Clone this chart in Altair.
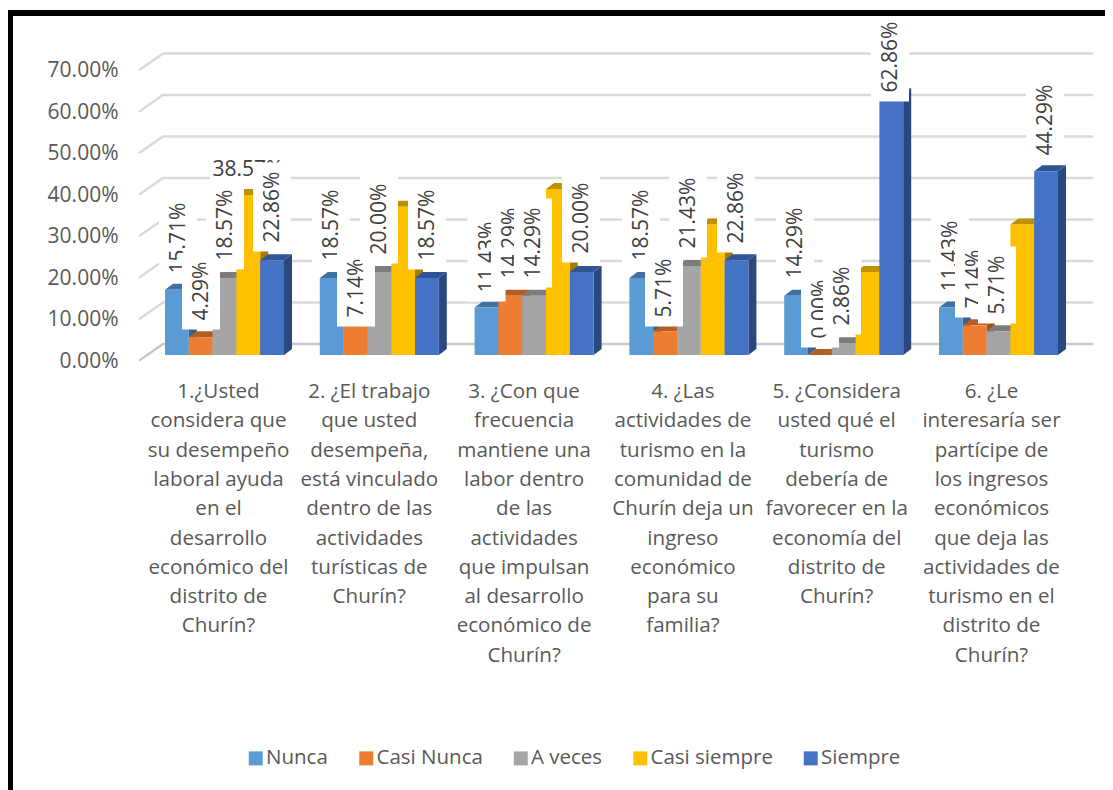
import altair as alt
import pandas as pd

series = ["Nunca", "Casi Nunca", "A veces", "Casi siempre", "Siempre"]
colors = ["#5B9BD5", "#ED7D31", "#A5A5A5", "#FFC000", "#4472C4"]
top_colors = ["#41729F", "#B25E25", "#7C7C7C", "#BF9000", "#2F5597"]
side_colors = ["#35618C", "#A04F1E", "#6A6A6A", "#A67C00", "#2A477F"]

categories = [
    "1.¿Usted\nconsidera que\nsu desempeño\nlaboral ayuda\nen el\ndesarrollo\neconómico del\ndistrito de\nChurín?",
    "2. ¿El trabajo\nque usted\ndesempeña,\nestá vinculado\ndentro de las\nactividades\nturísticas de\nChurín?",
    "3. ¿Con que\nfrecuencia\nmantiene una\nlabor dentro\nde las\nactividades\nque impulsan\nal desarrollo\neconómico de\nChurín?",
    "4. ¿Las\nactividades de\nturismo en la\ncomunidad de\nChurín deja un\ningreso\neconómico\npara su\nfamilia?",
    "5. ¿Considera\nusted qué el\nturismo\ndebería de\nfavorecer en la\neconomía del\ndistrito de\nChurín?",
    "6. ¿Le\ninteresaría ser\npartícipe de\nlos ingresos\neconómicos\nque deja las\nactividades de\nturismo en el\ndistrito de\nChurín?",
]
category_shift = [-6, -10, -10, -6, -7, -7]

nunca = [15.71, 18.57, 11.43, 18.57, 14.29, 11.43]
casi_nunca = [4.29, 7.14, 14.29, 5.71, 0.00, 7.14]
a_veces = [18.57, 20.00, 14.29, 21.43, 2.86, 5.71]
casi_siempre = [38.57, 35.71, 40.00, 31.43, 20.00, 31.43]
siempre = [22.86, 18.57, 20.00, 22.86, 62.86, 44.29]
values = [nunca, casi_nunca, a_veces, casi_siempre, siempre]
ticks = [0, 10, 20, 30, 40, 50, 60, 70]

# label placement on the page (centre of each label; None = label not visible)
label_cx = [
    [179, 332, 487.5, 642, 796, 951],
    [202, 357, 511, 665, 821, 975],
    [226, 380, 534, 689, 843, 998],
    [248, None, None, None, None, None],
    [273, 428, 582, 737, 891, 1046],
]
label_cy = [
    [238, 225, 257, 225, 243, 256],
    [291, 288, 243, 288, 309, 279],
    [225, 219, 243, 213, 296, 285],
    [170, None, None, None, None, None],
    [207, 225, 218, 208, 57, 120],
]

# page geometry -> data units
PX_W, PX_H = 1097, 782
C0, PITCH = 224.5, 154.8
Y0, PPV = 355.0, 4.15
def ux(X):
    return (X - C0) / PITCH
def uy(Y):
    return (Y0 - Y) / PPV
xscale = alt.Scale(domain=[ux(8), ux(8 + PX_W)], range=[0, PX_W], nice=False, zero=False)
yscale = alt.Scale(domain=[uy(8 + PX_H), uy(8)], range=[PX_H, 0], nice=False, zero=False)
BAR = 23.8 / PITCH
DX = 8 / PITCH
DY = 6 / PPV
GRID_LIFT = 11 / PPV

yaxis = alt.Axis(
    values=ticks, title=None, domain=False, ticks=False, grid=False,
    labelExpr="format(datum.value, '.2f') + '%'",
    labelFont="Open Sans", labelFontSize=21, labelColor="#595959",
    labelPadding=0, offset=-110, labelOffset=6,
)

X = alt.X("x:Q", scale=xscale, axis=None)
X2 = alt.X2("x2:Q")
Y = alt.Y("y:Q", scale=yscale, axis=yaxis, stack=None)
Y2 = alt.Y2("y2:Q")

layers = []

# back-wall gridlines with the left wall's diagonals
rows = []
for t in ticks:
    b = t + GRID_LIFT
    rows += [
        dict(tick=t, x=ux(140), y=b - 16 / PPV),
        dict(tick=t, x=ux(163), y=b),
        dict(tick=t, x=ux(1092), y=b),
    ]
grid = pd.DataFrame(rows)
layers.append(
    alt.Chart(grid[grid.tick > 0]).mark_line(color="#D9D9D9", strokeWidth=2.6, strokeCap="round")
    .encode(x=X, y=Y, detail="tick:N")
)
layers.append(
    alt.Chart(grid[grid.tick == 0]).mark_line(color="#C8C8C8", strokeWidth=2.4, strokeCap="round")
    .encode(x=X, y=Y, detail="tick:N")
)

# the bars, series by series, so a later bar hides an earlier bar's side
for j, name in enumerate(series):
    side_rows, top_rows, front_rows = [], [], []
    for i, v in enumerate(values[j]):
        x0 = i + (j - 2.5) * BAR
        x1 = x0 + BAR
        side_rows += [
            dict(g=i, x=x1, y=v, y2=0),
            dict(g=i, x=x1 + DX, y=v + DY, y2=DY),
        ]
        top_rows += [
            dict(g=i, x=x0, y=v, y2=v),
            dict(g=i, x=x0 + DX, y=v + DY, y2=v),
            dict(g=i, x=x1, y=v + DY, y2=v),
            dict(g=i, x=x1 + DX, y=v + DY, y2=v + DY),
        ]
        front_rows.append(dict(x=x0, x2=x1, y=v, y2=0, serie=name))
    layers.append(
        alt.Chart(pd.DataFrame(side_rows)).mark_area(color=side_colors[j], orient="vertical")
        .encode(x=X, y=Y, y2=Y2, detail="g:N")
    )
    layers.append(
        alt.Chart(pd.DataFrame(top_rows)).mark_area(color=top_colors[j], orient="vertical")
        .encode(x=X, y=Y, y2=Y2, detail="g:N")
    )
    layers.append(
        alt.Chart(pd.DataFrame(front_rows)).mark_rect().encode(
            x=X, x2=X2, y=Y, y2=Y2,
            color=alt.Color(
                "serie:N",
                scale=alt.Scale(domain=series, range=colors),
                legend=alt.Legend(
                    orient="none", legendX=237.5, legendY=740, direction="horizontal",
                    title=None, symbolType="square", symbolSize=196, symbolStrokeWidth=0,
                    labelFont="Open Sans", labelFontSize=20.5, labelColor="#595959",
                    labelOffset=0, columnPadding=27.5, labelLimit=300,
                ),
            ),
        )
    )

# white-backed data labels, painted in series order
for j in range(5):
    rows = []
    for i, v in enumerate(values[j]):
        cx, cy = label_cx[j][i], label_cy[j][i]
        if cx is None:
            continue
        text = f"{v:.2f}%"
        half = 35.5 + 9 if len(text) == 6 else 29.5 + 9
        if j == 3:
            rows.append(dict(x=ux(cx - 38), x2=ux(cx + 38), y=uy(cy - 14), y2=uy(cy + 16),
                             tx=ux(cx), ty=uy(cy), label=text))
        else:
            rows.append(dict(x=ux(cx - 20), x2=ux(cx + 18), y=uy(cy - half), y2=uy(cy + half),
                             tx=ux(cx), ty=uy(cy), label=text))
    df = pd.DataFrame(rows)
    layers.append(alt.Chart(df).mark_rect(color="white").encode(x=X, x2=X2, y=Y, y2=Y2))
    layers.append(
        alt.Chart(df).mark_text(
            font="Open Sans", fontSize=21, color="#404040",
            angle=0 if j == 3 else 270, align="center", baseline="middle",
        ).encode(
            x=alt.X("tx:Q", scale=xscale, axis=None),
            y=alt.Y("ty:Q", scale=yscale, axis=yaxis),
            text="label:N",
        )
    )

# category captions
cat_df = pd.DataFrame({"x": [ux(C0 + PITCH * i + category_shift[i]) for i in range(6)],
                       "y": [uy(382)] * 6, "text": categories})
layers.append(
    alt.Chart(cat_df).mark_text(
        font="Open Sans", fontSize=20.6, color="#595959", align="center",
        baseline="top", lineBreak="\n", lineHeight=29.3,
    ).encode(x=X, y=Y, text="text:N")
)

# black frame on top and left
frame = pd.DataFrame({"a": [0]})
layers.append(alt.Chart(frame).mark_rect(color="black").encode(
    x=alt.value(0), x2=alt.value(PX_W), y=alt.value(2), y2=alt.value(8)))
layers.append(alt.Chart(frame).mark_rect(color="black").encode(
    x=alt.value(0), x2=alt.value(5), y=alt.value(2), y2=alt.value(PX_H)))

chart = (
    alt.layer(*layers)
    .resolve_scale(color="shared")
    .properties(width=PX_W, height=PX_H, autosize=alt.AutoSizeParams(type="none"),
                padding=0, background="white")
    .configure_view(stroke=None)
)
chart.save("out.html", embed_options={"renderer": "svg", "actions": False})
